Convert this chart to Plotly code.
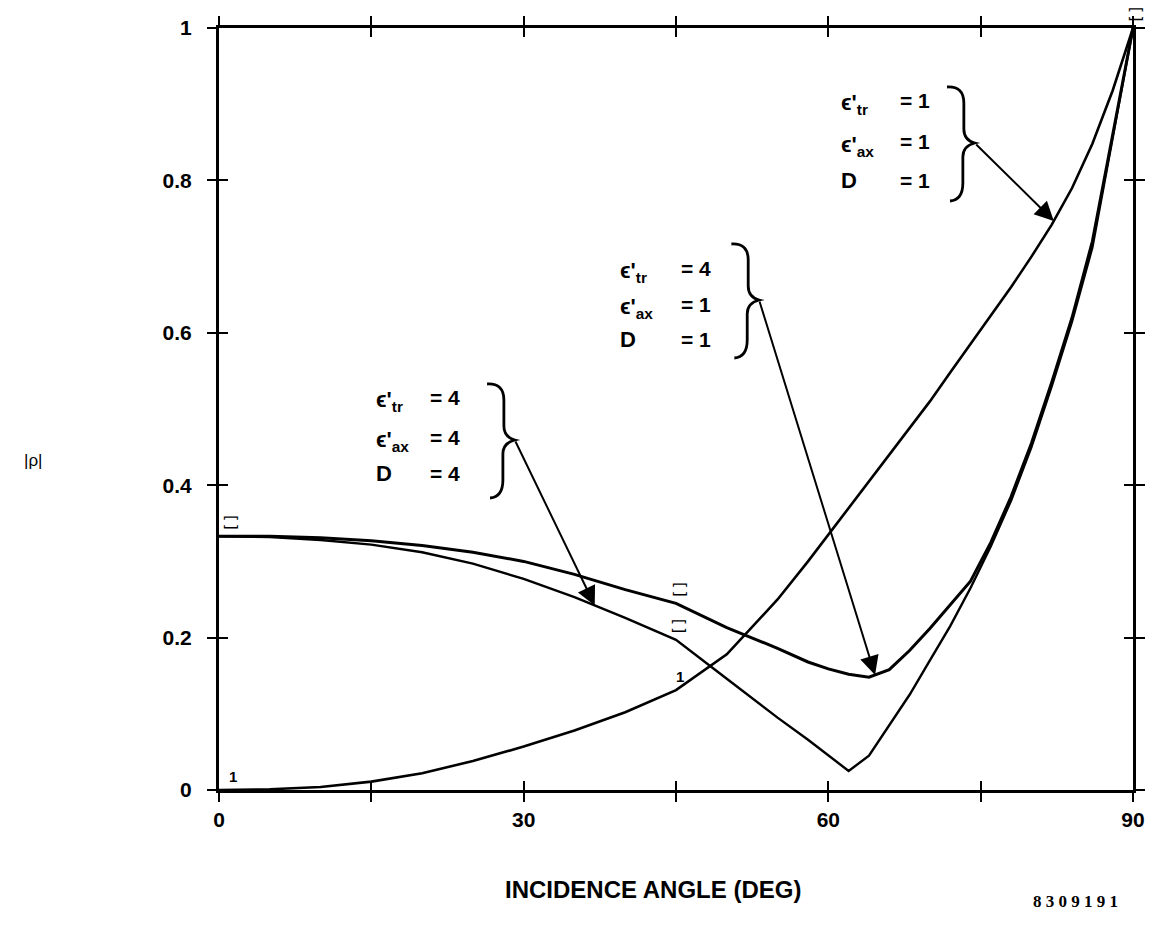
import numpy as np
import plotly.graph_objects as go

# Incidence angle (deg) and reflection-coefficient magnitudes |rho|
angle = [0, 5, 10, 15, 20, 25, 30, 35, 40, 45, 50, 55, 58, 60, 62, 64, 66, 68,
         70, 72, 74, 76, 78, 80, 82, 84, 86, 88, 90]
# eps'tr = 1, eps'ax = 1, D = 1
rho_a = [0.000, 0.001, 0.004, 0.011, 0.022, 0.038, 0.057, 0.078, 0.102, 0.131,
         0.178, 0.250, 0.300, 0.335, 0.370, 0.405, 0.440, 0.475, 0.510, 0.548,
         0.585, 0.622, 0.660, 0.700, 0.742, 0.790, 0.848, 0.918, 1.000]
# eps'tr = 4, eps'ax = 1, D = 1
rho_b = [0.333, 0.333, 0.331, 0.327, 0.321, 0.312, 0.300, 0.283, 0.263, 0.245,
         0.213, 0.186, 0.168, 0.159, 0.152, 0.148, 0.158, 0.183, 0.212, 0.243,
         0.274, 0.325, 0.385, 0.455, 0.535, 0.620, 0.720, 0.860, 1.000]
# eps'tr = 4, eps'ax = 4, D = 4
rho_c = [0.333, 0.332, 0.328, 0.322, 0.312, 0.297, 0.277, 0.253, 0.226, 0.197,
         0.146, 0.095, 0.066, 0.046, 0.025, 0.045, 0.085, 0.125, 0.170, 0.215,
         0.265, 0.320, 0.380, 0.450, 0.530, 0.615, 0.712, 0.855, 1.000]

x_ticks = [0, 30, 60, 90]
x_ticktext = ["<b>0</b>", "<b>30</b>", "<b>60</b>", "<b>90</b>"]
x_minor_step = 15
y_ticks = [0, 0.2, 0.4, 0.6, 0.8, 1.0]
y_ticktext = ["<b>0</b>", "<b>0.2</b>", "<b>0.4</b>", "<b>0.6</b>",
              "<b>0.8</b>", "<b>1</b>"]

FONT = "Liberation Sans, Arial, sans-serif"
W, H = 1157, 951
L, R, T, B = 219, 14, 28, 161
PW, PH = W - L - R, H - T - B


def to_paper(px, py):
    return (px - L) / PW, (H - B - py) / PH


def to_data(px, py):
    fx, fy = to_paper(px, py)
    return fx * 90.0, fy * 1.0


fig = go.Figure()
for ys, w in [(rho_a, 2.6), (rho_b, 3.0), (rho_c, 2.4)]:
    fig.add_trace(go.Scatter(x=angle, y=ys, mode="lines",
                             line=dict(color="black", width=w),
                             hoverinfo="skip", showlegend=False))
# helper trace that carries the inner (crossing) tick axes
fig.add_trace(go.Scatter(x=[0, 90], y=[0, 1], xaxis="x2", yaxis="y2",
                         mode="lines", line=dict(width=0), opacity=0,
                         showlegend=False, hoverinfo="skip"))

shapes = []
annotations = []

# curly braces, drawn relative to the point where the arrow leaves them
brace_rel = [("M", -28, -56), ("Q", -11, -57, -11, -40), ("L", -11, -14),
             ("Q", -11, -3, 0, 0), ("Q", -12, 3, -12, 14), ("L", -12, 40),
             ("Q", -12, 57, -25, 58)]


def brace_path(cx, cy):
    parts = []
    for seg in brace_rel:
        cmd, nums = seg[0], seg[1:]
        pts = []
        for i in range(0, len(nums), 2):
            fx, fy = to_paper(cx + nums[i], cy + nums[i + 1])
            pts.append(f"{fx:.5f},{fy:.5f}")
        parts.append(cmd + " " + " ".join(pts))
    return " ".join(parts)


def add_label(ex, ey_rows, eqx, vals, cusp, tip):
    tr, ax_, d = vals
    rows = [("ϵ'<sub>tr</sub>", tr), ("ϵ'<sub>ax</sub>", ax_), ("D", d)]
    for (name, val), yy in zip(rows, ey_rows):
        fx, fy = to_paper(ex, yy)
        annotations.append(dict(x=fx, y=fy, xref="paper", yref="paper",
                                text=f"<b>{name}</b>", showarrow=False,
                                xanchor="left", yanchor="middle",
                                yshift=-4 if name != "D" else 0,
                                font=dict(family=FONT, size=22, color="black")))
        gx, gy = to_paper(eqx, yy)
        annotations.append(dict(x=gx, y=gy, xref="paper", yref="paper",
                                text=f"<b>= {val}</b>", showarrow=False,
                                xanchor="left", yanchor="middle",
                                font=dict(family=FONT, size=21, color="black")))
    shapes.append(dict(type="path", path=brace_path(*cusp), xref="paper",
                       yref="paper", line=dict(color="black", width=2.8)))
    tx, ty = to_data(*cusp)
    annotations.append(dict(x=tip[0], y=tip[1], xref="x", yref="y",
                            ax=tx, ay=ty, axref="x", ayref="y", text="",
                            showarrow=True, arrowhead=2, arrowsize=1.9,
                            arrowwidth=2, arrowcolor="black", standoff=0))


tip_a = 82.2
tip_b = 64.6
tip_c = 37.0
add_label(846, [100, 142, 180], 905, (1, 1, 1), (983, 143),
          (tip_a, float(np.interp(tip_a, angle, rho_a))))
add_label(622, [268, 304, 339], 684, (4, 1, 1), (765, 300),
          (tip_b, float(np.interp(tip_b, angle, rho_b))))
add_label(376, [397, 437, 474], 430, (4, 4, 4), (518, 440),
          (tip_c, float(np.interp(tip_c, angle, rho_c))))

# curve identification symbols printed just above each curve
sym_font = dict(family="DejaVu Sans Mono", size=16, color="black")
for xx, yy, xs in [(0, rho_b[0], 12), (45, rho_b[9], 4),
                   (45, rho_c[9], 4), (90, rho_b[-1], 3)]:
    annotations.append(dict(x=xx, y=yy, xref="x", yref="y", text="[]",
                            textangle=90, showarrow=False, yanchor="bottom",
                            xanchor="center", xshift=xs, yshift=3,
                            font=sym_font))
for xx, yy, xs in [(0, rho_a[0], 14), (45, rho_a[9], 4)]:
    annotations.append(dict(x=xx, y=yy, xref="x", yref="y", text="<b>1</b>",
                            showarrow=False, yanchor="bottom",
                            xanchor="center", xshift=xs, yshift=3,
                            font=dict(family=FONT, size=15, color="black")))

# axis titles and figure number
fx, fy = to_paper(31, 460)
annotations.append(dict(x=fx, y=fy, xref="paper", yref="paper", text="|ρ|",
                        showarrow=False, xanchor="center",
                        font=dict(family=FONT, size=17, color="black")))
fx, fy = to_paper(658, 905)
annotations.append(dict(x=fx, y=fy, xref="paper", yref="paper",
                        text="<b>INCIDENCE ANGLE (DEG)</b>", showarrow=False,
                        xanchor="center",
                        font=dict(family=FONT, size=24, color="black")))
fx, fy = to_paper(1085, 913)
annotations.append(dict(x=fx, y=fy, xref="paper", yref="paper",
                        text="<b>8 3 0 9 1 9 1</b>", showarrow=False,
                        xanchor="center",
                        font=dict(family="Liberation Serif", size=17,
                                  color="black")))

axis_common = dict(showgrid=False, zeroline=False, showline=True,
                   linecolor="black", linewidth=3, mirror="allticks",
                   tickcolor="black", tickwidth=2, ticklen=9)

fig.update_layout(
    width=W, height=H,
    margin=dict(l=L, r=R, t=T, b=B),
    paper_bgcolor="white", plot_bgcolor="white",
    shapes=shapes, annotations=annotations,
    xaxis=dict(range=[0, 90], tickvals=x_ticks, ticktext=x_ticktext,
               ticks="outside", ticklabelstandoff=0,
               minor=dict(dtick=x_minor_step, tick0=0, ticks="outside",
                          ticklen=9, tickwidth=2, tickcolor="black",
                          showgrid=False),
               tickfont=dict(family=FONT, size=21, color="black"),
               **axis_common),
    yaxis=dict(range=[0, 1], tickvals=y_ticks, ticktext=y_ticktext,
               ticks="outside", ticklabelstandoff=11,
               tickfont=dict(family=FONT, size=21, color="black"),
               **axis_common),
    xaxis2=dict(range=[0, 90], overlaying="x", anchor="y2", tickvals=x_ticks,
                ticks="inside", showticklabels=False,
                minor=dict(dtick=x_minor_step, tick0=0, ticks="inside",
                           ticklen=9, tickwidth=2, tickcolor="black",
                           showgrid=False),
                **axis_common),
    yaxis2=dict(range=[0, 1], overlaying="y", anchor="x2", tickvals=y_ticks,
                ticks="inside", showticklabels=False, **axis_common),
)

fig.write_html("out.html")
